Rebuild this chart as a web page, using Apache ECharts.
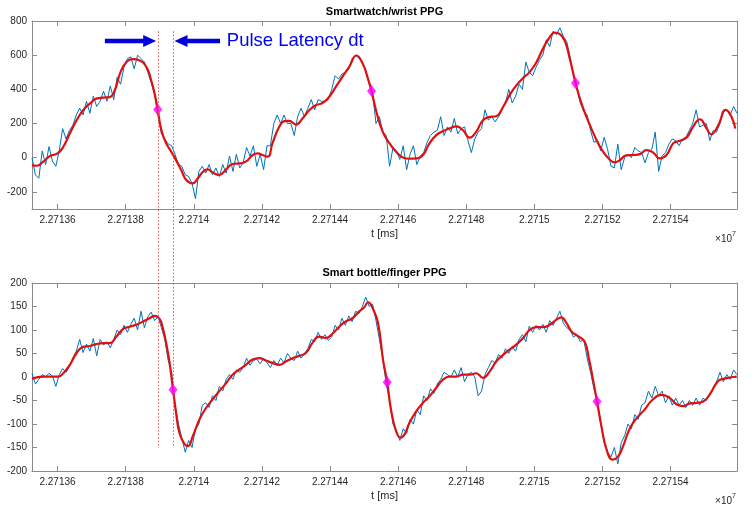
<!DOCTYPE html>
<html><head><meta charset="utf-8">
<script src="https://cdn.jsdelivr.net/npm/echarts@6/dist/echarts.min.js"></script>
<style>html,body{margin:0;padding:0;background:#fff}#c{width:752px;height:516px}</style>
</head><body><div id="c"></div>
<script>
// ---- data (times in ms relative to T0) ----
const T0 = 22713600;
const X_MIN = -75, X_MAX = 1995;
const SAMPLE_START = -75, SAMPLE_STEP = 10;
const xTicks = [22713600,22713800,22714000,22714200,22714400,22714600,22714800,22715000,22715200,22715400];
const topYTicks = [-200,0,200,400,600,800];
const botYTicks = [-200,-150,-100,-50,0,50,100,150,200];
const titles = ['Smartwatch/wrist PPG', 'Smart bottle/finger PPG'];
const xName = 't [ms]';
const latencyText = 'Pulse Latency dt';

const topBlue = [
0,-100,-120,40,-40,65,-20,-50,40,170,
110,160,190,250,290,250,330,260,360,300,
330,390,330,420,340,470,430,530,580,590,
520,600,580,560,500,440,370,250,140,110,
80,70,20,-40,-50,-100,-110,-150,-240,-80,
-50,-90,-40,-100,-60,-110,-40,-90,10,-80,
20,-60,-30,60,10,70,-50,20,-70,70,
70,200,250,200,250,200,200,130,240,290,
240,290,340,280,340,330,330,340,400,480,
460,490,500,520,580,600,580,560,510,430,
380,200,240,150,130,-50,60,40,-10,70,
-70,20,70,-40,10,30,90,130,150,160,
240,130,180,150,230,140,170,180,100,30,
110,150,170,280,220,240,210,240,280,320,
400,320,360,430,400,560,500,480,530,570,
600,690,650,740,720,760,710,680,590,480,
400,320,270,250,160,90,100,40,120,50,
-50,-60,80,-70,0,20,0,60,40,30,
-30,30,50,150,-80,10,30,80,110,100,
70,110,120,160,200,280,180,190,200,100,
160,150,200,270,280,250,300,260];

const botBlue = [
8,-15,-5,5,0,8,2,-20,5,18,
10,22,40,55,80,52,70,55,82,45,
80,68,75,62,80,100,90,110,95,112,
125,100,140,105,128,138,120,128,105,80,
35,10,-60,-100,-130,-160,-135,-150,-110,-100,
-60,-55,-65,-40,-50,-20,-30,-5,5,-5,
15,10,20,40,25,35,38,28,40,30,
20,35,25,40,30,50,40,35,55,40,
50,60,80,75,95,80,90,78,85,110,
100,125,110,130,118,140,135,150,170,150,
155,120,80,40,-15,-50,-100,-115,-135,-110,
-120,-90,-100,-70,-80,-40,-50,-25,-35,-15,
-5,10,5,0,15,0,20,-10,5,10,
0,-40,-30,5,20,35,30,48,40,60,
50,65,55,80,90,75,108,95,110,100,
112,95,120,110,125,140,115,105,100,85,
90,75,80,40,10,-25,-50,-100,-140,-160,
-170,-150,-185,-140,-125,-100,-110,-80,-90,-60,
-55,-30,-45,-20,-40,-30,-55,-40,-60,-45,
-60,-50,-65,-50,-60,-45,-60,-45,-50,-35,
-25,-10,10,-10,5,-5,15,5];

const topRedT = [-75,-61,-42,-22,0,17,36,56,75,95,
114,134,153,168,183,202,222,241,261,275,
285,294,305,319,334,348,363,378,397,412,
427,441,456,475,495,514,534,553,573,588,
602,617,631,651,666,680,700,719,739,758,
778,797,817,836,856,878,895,910,922,935,
955,975,994,1014,1033,1053,1073,1092,1112,1131,
1151,1171,1190,1210,1229,1249,1269,1288,1308,1327,
1347,1367,1386,1406,1425,1445,1460,1474,1489,1504,
1521,1538,1558,1577,1597,1616,1636,1651,1670,1690,
1710,1729,1749,1768,1788,1808,1827,1847,1866,1886,
1906,1919,1940,1962,1979,1990];
const topRedV = [-43,-47,-23,10,25,64,142,219,278,317,
346,352,355,394,491,559,577,569,530,452,
375,282,161,84,35,-14,-72,-130,-150,-120,
-82,-68,-87,-101,-68,-37,-33,-23,16,25,
16,6,84,181,214,216,194,229,278,307,
320,355,414,472,530,598,555,472,390,278,
151,84,35,2,-6,-4,16,84,132,155,
171,184,161,118,151,219,239,243,297,365,
423,466,501,559,637,705,732,724,686,579,
437,320,215,128,50,0,-27,-14,14,16,
21,45,30,-4,16,84,99,118,181,225,
171,137,190,280,239,170];

const botRedT = [-75,-42,-22,2,17,36,56,75,95,114,
134,153,173,192,212,231,251,270,285,300,
309,319,329,339,348,358,373,383,397,417,
436,456,475,495,514,534,553,573,592,612,
631,651,670,690,710,729,748,768,788,807,
827,846,866,885,900,912,926,941,956,968,
979,994,1007,1019,1033,1053,1073,1092,1112,1131,
1151,1171,1190,1210,1229,1249,1269,1288,1308,1327,
1347,1367,1386,1406,1425,1445,1465,1479,1494,1509,
1528,1547,1560,1572,1584,1597,1612,1630,1645,1660,
1680,1700,1723,1745,1773,1798,1817,1837,1857,1876,
1896,1915,1939,1955,1974,1994];
const botRedV = [-4,1,1,1,8,26,51,64,66,70,
72,72,86,102,107,111,118,125,130,123,
104,72,30,-27,-76,-119,-143,-147,-126,-90,
-66,-47,-30,-13,5,16,26,37,40,35,
30,26,33,40,45,51,72,86,83,92,
107,118,125,139,148,159,145,115,35,-11,
-69,-115,-129,-122,-98,-73,-55,-41,-23,-6,
1,1,5,5,8,-2,12,33,47,58,
69,83,100,106,106,111,122,127,115,97,
87,76,40,-5,-52,-105,-154,-176,-170,-148,
-110,-88,-70,-50,-38,-45,-58,-62,-56,-55,
-52,-37,-9,-4,-1,1];

const topMarkT = [294, 922, 1521], topMarkV = [282, 390, 437];
const botMarkT = [339, 968, 1584], botMarkV = [-27, -11, -52];
const latencyT = [294, 339];

// ---- build ----
const FONT = 'Liberation Sans, Arial, Helvetica, sans-serif';
const AX = '#8a8a8a', TXT = '#262626';
const sampled = arr => arr.map((v, i) => [T0 + SAMPLE_START + i * SAMPLE_STEP, v]);
const pairs = (ts, vs) => ts.map((t, i) => [T0 + t, vs[i]]);

function xAx(grid, pos, main) {
  return {
    type: 'value', gridIndex: grid, position: pos, min: T0 + X_MIN, max: T0 + X_MAX,
    axisLine: {show: true, onZero: false, lineStyle: {color: AX, width: 1}},
    axisTick: {show: true, inside: true, length: 5, customValues: xTicks, lineStyle: {color: AX}},
    axisLabel: {show: main, customValues: xTicks, formatter: v => String(v / 1e7),
      color: TXT, fontSize: 10, fontFamily: FONT, margin: 6},
    splitLine: {show: false},
    name: main ? xName : '', nameLocation: 'middle', nameGap: 19,
    nameTextStyle: {color: TXT, fontSize: 11, fontFamily: FONT}
  };
}
function yAx(grid, pos, main, min, max, ticks) {
  return {
    type: 'value', gridIndex: grid, position: pos, min: min, max: max,
    axisLine: {show: true, onZero: false, lineStyle: {color: AX, width: 1}},
    axisTick: {show: true, inside: true, length: 5, customValues: ticks, lineStyle: {color: AX}},
    axisLabel: {show: main, customValues: ticks, color: TXT, fontSize: 10, fontFamily: FONT, margin: 5},
    splitLine: {show: false}
  };
}
function blue(data, ax) {
  return {type: 'line', xAxisIndex: ax, yAxisIndex: ax, data: data, showSymbol: false,
    lineStyle: {color: '#0072BD', width: 1}, z: 2, silent: true};
}
function red(data, ax) {
  return {type: 'line', xAxisIndex: ax, yAxisIndex: ax, data: data, showSymbol: false, smooth: 0.5,
    lineStyle: {color: '#e01010', width: 2.2}, z: 3, silent: true};
}
function marks(data, ax) {
  return {type: 'scatter', xAxisIndex: ax, yAxisIndex: ax, data: data, symbol: 'diamond',
    symbolSize: [9, 12], itemStyle: {color: '#ff00ff'}, z: 5, silent: true};
}

const chart = echarts.init(document.getElementById('c'), null, {renderer: 'canvas'});
chart.setOption({
  animation: false,
  backgroundColor: '#fff',
  grid: [
    {left: 32, top: 21, width: 705, height: 188},
    {left: 32, top: 283, width: 705, height: 188}
  ],
  xAxis: [xAx(0, 'bottom', true), xAx(0, 'top', false), xAx(1, 'bottom', true), xAx(1, 'top', false)],
  yAxis: [yAx(0, 'left', true, -300, 800, topYTicks), yAx(0, 'right', false, -300, 800, topYTicks),
          yAx(1, 'left', true, -200, 200, botYTicks), yAx(1, 'right', false, -200, 200, botYTicks)],
  series: [
    blue(sampled(topBlue), 0), red(pairs(topRedT, topRedV), 0), marks(pairs(topMarkT, topMarkV), 0),
    blue(sampled(botBlue), 2), red(pairs(botRedT, botRedV), 2), marks(pairs(botMarkT, botMarkV), 2)
  ]
});

// ---- annotations positioned through the axes ----
const P = (si, t, v) => chart.convertToPixel({seriesIndex: si}, [T0 + t, v]);
const g = [];
// titles
const midT = (X_MIN + X_MAX) / 2;
const tt = P(0, midT, 800), bt = P(3, midT, 200);
g.push({type: 'text', x: tt[0], y: tt[1] - 9, style: {text: titles[0], align: 'center', verticalAlign: 'middle',
  font: 'bold 11px ' + FONT, fill: '#000'}});
g.push({type: 'text', x: bt[0], y: bt[1] - 10, style: {text: titles[1], align: 'center', verticalAlign: 'middle',
  font: 'bold 11px ' + FONT, fill: '#000'}});
// x10^7 exponent labels
[[0, -300], [3, -200]].forEach(([si, v]) => {
  const c = P(si, X_MAX, v);
  g.push({type: 'text', x: c[0] - 5, y: c[1] + 30, style: {text: '\u00d710', align: 'right', verticalAlign: 'middle',
    font: '10px ' + FONT, fill: TXT}});
  g.push({type: 'text', x: c[0] - 5, y: c[1] + 25, style: {text: '7', align: 'left', verticalAlign: 'middle',
    font: '7px ' + FONT, fill: TXT}});
});
// latency dotted lines across both panels
latencyT.forEach(t => {
  const a = P(0, t, 740), b = P(3, t, -150);
  g.push({type: 'line', shape: {x1: Math.round(a[0]) + 0.5, y1: a[1], x2: Math.round(b[0]) + 0.5, y2: b[1]},
    style: {stroke: '#e35a5a', lineWidth: 1, lineDash: [1.5, 2]}, z: 10});
});
// arrows
const ARROW_V = 683;
function arrow(tail, tip, dir) {
  const y = tip[1], hl = 13, hh = 6, sh = 2.2;
  const bx = tip[0] - dir * hl;
  return {type: 'polygon', shape: {points: [[tail[0], y - sh], [bx, y - sh], [bx, y - hh], [tip[0], y],
    [bx, y + hh], [bx, y + sh], [tail[0], y + sh]]}, style: {fill: '#0000dd'}, z: 10};
}
const tip1 = P(0, latencyT[0], ARROW_V); tip1[0] -= 1.5;
const tip2 = P(0, latencyT[1], ARROW_V); tip2[0] += 1.5;
g.push(arrow(P(0, 139, ARROW_V), tip1, 1));
g.push(arrow(P(0, 477, ARROW_V), tip2, -1));
const tp = P(0, 497, ARROW_V);
g.push({type: 'text', x: tp[0], y: tp[1], style: {text: latencyText, align: 'left', verticalAlign: 'middle',
  font: '18.5px ' + FONT, fill: '#0000ff'}, z: 10});
chart.setOption({graphic: g});
</script>
</body></html>
